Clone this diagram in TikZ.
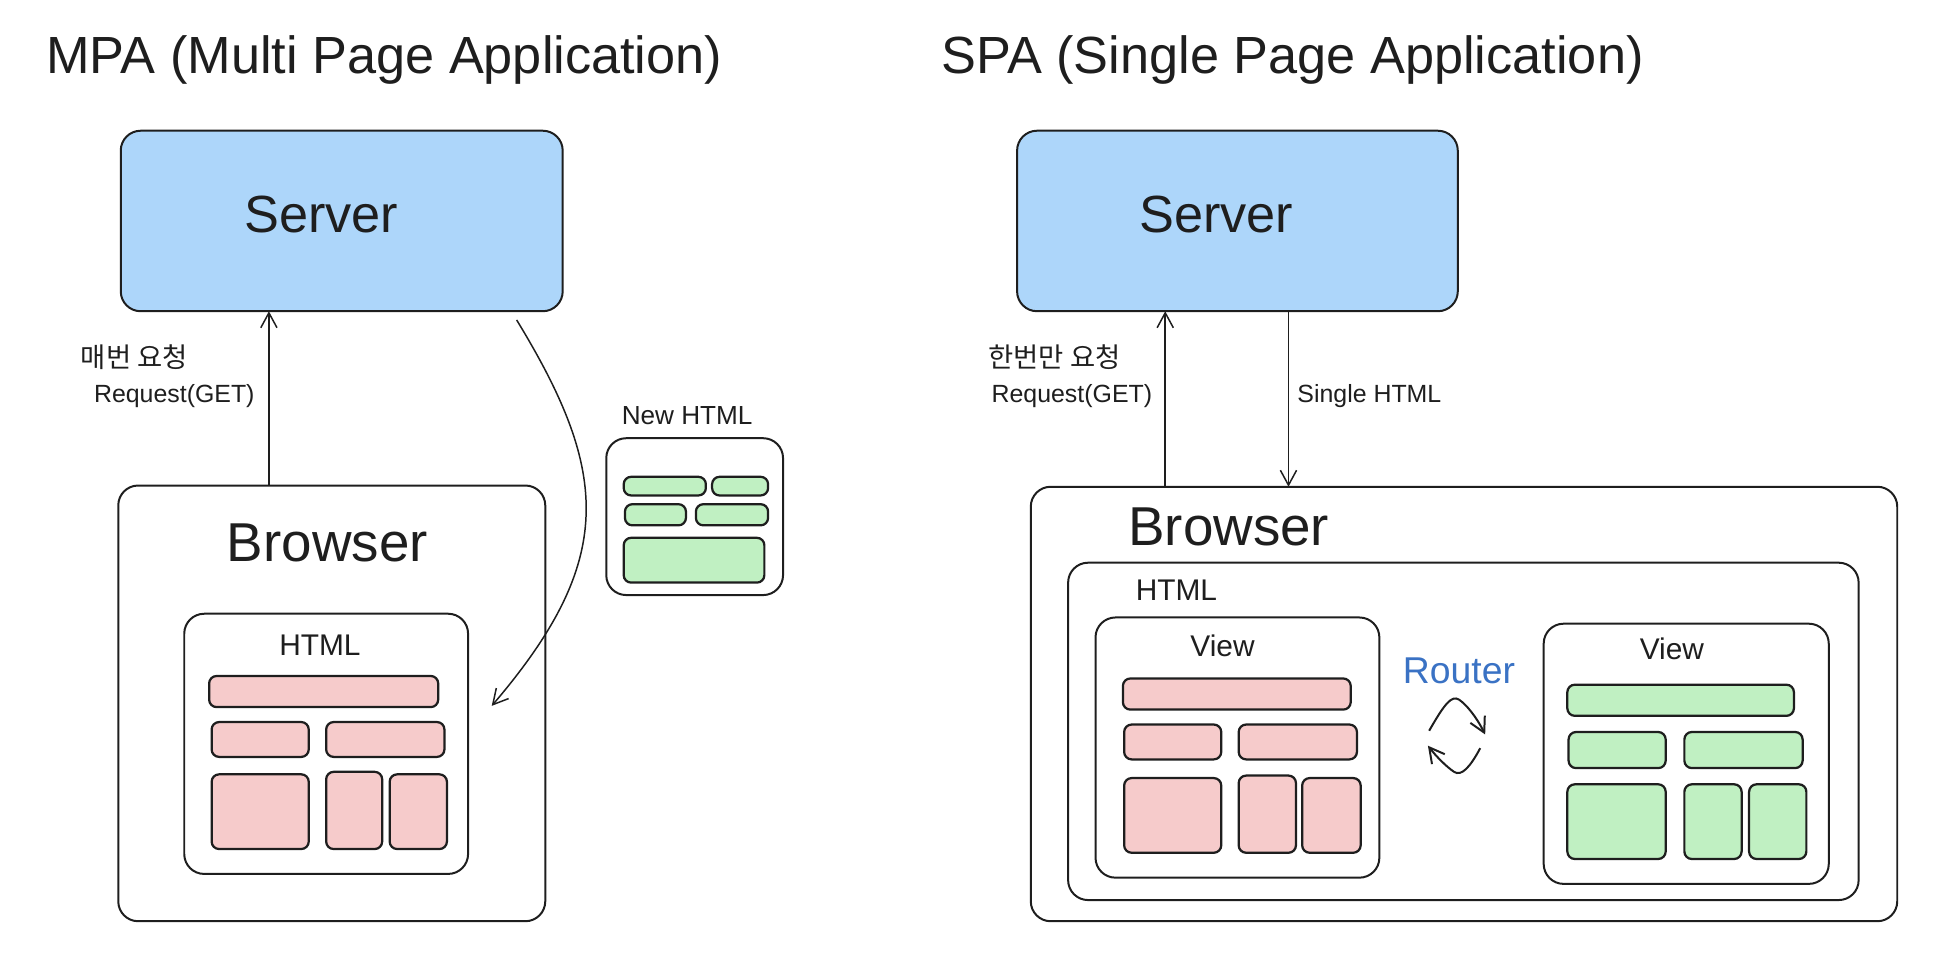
\documentclass[tikz,border=0pt]{standalone}
\usepackage{fontspec}
\setmainfont{Liberation Sans}
\newfontfamily\krfont{Noto Sans CJK KR}
\usepackage{xcolor}
\usetikzlibrary{arrows.meta}

\definecolor{ink}{HTML}{1E1E1E}
\definecolor{srvblue}{HTML}{ADD6FA}
\definecolor{blkpink}{HTML}{F6CBCB}
\definecolor{blkgreen}{HTML}{C0F0C2}
\definecolor{routeblue}{HTML}{3A72C4}

\tikzset{
  box/.style={draw=ink, line width=0.8pt, rounded corners=8pt, inner sep=0pt, outer sep=0pt},
  srvbox/.style={box, fill=srvblue},
  pinkblk/.style={draw=ink, line width=0.9pt, fill=blkpink, rounded corners=3pt},
  greenblk/.style={draw=ink, line width=0.9pt, fill=blkgreen, rounded corners=3pt},
  arr/.style={draw=ink, line width=0.6pt, -{Straight Barb[length=6pt,width=6.5pt]}},
  titletxt/.style={text=ink, anchor=west, font=\fontsize{21}{25}\selectfont},
  bigtxt/.style={text=ink, font=\fontsize{21}{25}\selectfont},
  brwtxt/.style={text=ink, font=\fontsize{22}{26}\selectfont},
  midtxt/.style={text=ink, font=\fontsize{12}{14}\selectfont},
  smalltxt/.style={text=ink, font=\fontsize{10}{12}\selectfont},
  kotxt/.style={text=ink, font=\krfont\fontsize{11}{13}\selectfont}
}

\begin{document}
\begin{tikzpicture}[x=0.5pt, y=-0.5pt]
    \useasboundingbox (0,0) rectangle (1568,765);

    % titles
    \node[titletxt] (mpatitle) at (30,48) {MPA (Multi Page Application)};
    \node[titletxt] (spatitle) at (749,48) {SPA (Single Page Application)};

    % ---- MPA ----
    \node[srvbox, minimum width=177.5pt, minimum height=72.5pt] (mserver) at (274.5,177.5) {};
    \node[bigtxt] (mserverlbl) at (258,172) {Server};

    \node[box, minimum width=171.5pt, minimum height=175pt] (mbrowser) at (266.5,565) {};
    \node[brwtxt] (mbrowserlbl) at (263,436) {Browser};

    \node[box, minimum width=114pt, minimum height=104.5pt] (mhtml) at (262,597.5) {};
    \node[midtxt] (mhtmllbl) at (257,518) {HTML};

    \draw[pinkblk] (168,543) rectangle (352,568);
    \draw[pinkblk] (170,580) rectangle (248,608);
    \draw[pinkblk] (262,580) rectangle (357,608);
    \draw[pinkblk] (170,622) rectangle (248,682);
    \draw[pinkblk] (262,620) rectangle (307,682);
    \draw[pinkblk] (313,622) rectangle (359,682);

    \coordinate (mreq) at (216,0);
    \draw[arr] (mbrowser.north -| mreq) -- (mserver.south -| mreq);
    \node[kotxt] (mreqko) at (108,287) {매번 요청};
    \node[smalltxt] (mreqlbl) at (140,318) {Request(GET)};

    % new page from the server
    \node[smalltxt, font=\fontsize{10.5}{12}\selectfont] (mnewlbl) at (552,334) {New HTML};
    \node[box, minimum width=71pt, minimum height=63pt] (mnew) at (558,415) {};
    \draw[greenblk] (501,383) rectangle (567,398);
    \draw[greenblk] (572,383) rectangle (617,398);
    \draw[greenblk] (502,405) rectangle (551,422);
    \draw[greenblk] (559,405) rectangle (617,422);
    \draw[greenblk] (501,432) rectangle (614,468);

    \coordinate (mfrom) at (415,257);
    \coordinate (mto) at (395,567);
    \draw[arr] (mfrom) .. controls (490,380) and (495,450) .. (mto);

    % ---- SPA ----
    \node[srvbox, minimum width=177pt, minimum height=72.5pt] (sserver) at (994,177.5) {};
    \node[bigtxt] (sserverlbl) at (977,172) {Server};

    \node[box, minimum width=348pt, minimum height=174.5pt] (sbrowser) at (1176,565.5) {};
    \node[brwtxt] (sbrowserlbl) at (987,423) {Browser};

    \node[box, minimum width=317.5pt, minimum height=135.5pt] (shtml) at (1175.5,587.5) {};
    \node[midtxt] (shtmllbl) at (945,474) {HTML};

    \coordinate (sreq) at (936,0);
    \coordinate (sres) at (1035,0);
    \draw[arr] (sbrowser.north -| sreq) -- (sserver.south -| sreq);
    \draw[arr] (sserver.south -| sres) -- (sbrowser.north -| sres);
    \node[kotxt] (sreqko) at (847,287) {한번만 요청};
    \node[smalltxt] (sreqlbl) at (861,318) {Request(GET)};
    \node[smalltxt] (sreslbl) at (1100,318) {Single HTML};

    % left view
    \node[box, minimum width=114pt, minimum height=104.5pt] (sviewa) at (994,600.5) {};
    \node[midtxt] (sviewalbl) at (982,519) {View};
    \draw[pinkblk] (902,545) rectangle (1085,570);
    \draw[pinkblk] (903,582) rectangle (981,610);
    \draw[pinkblk] (995,582) rectangle (1090,610);
    \draw[pinkblk] (903,625) rectangle (981,685);
    \draw[pinkblk] (995,623) rectangle (1041,685);
    \draw[pinkblk] (1046,625) rectangle (1093,685);

    % router
    \node[text=routeblue, font=\fontsize{15}{18}\selectfont] (router) at (1172,539) {Router};
    \draw[arr, line width=0.8pt] (1148,587) .. controls (1160,566) and (1166,558) .. (1172,562) .. controls (1178,566) and (1186,576) .. (1193,590);
    \draw[arr, line width=0.8pt] (1189,601) .. controls (1181,616) and (1174,624) .. (1168,620) .. controls (1162,616) and (1154,608) .. (1147,599);

    % right view
    \node[box, minimum width=114.5pt, minimum height=104.5pt] (sviewb) at (1354.5,605.5) {};
    \node[midtxt] (sviewblbl) at (1343,521) {View};
    \draw[greenblk] (1259,550) rectangle (1441,575);
    \draw[greenblk] (1260,588) rectangle (1338,617);
    \draw[greenblk] (1353,588) rectangle (1448,617);
    \draw[greenblk] (1259,630) rectangle (1338,690);
    \draw[greenblk] (1353,630) rectangle (1399,690);
    \draw[greenblk] (1405,630) rectangle (1451,690);
\end{tikzpicture}
\end{document}
